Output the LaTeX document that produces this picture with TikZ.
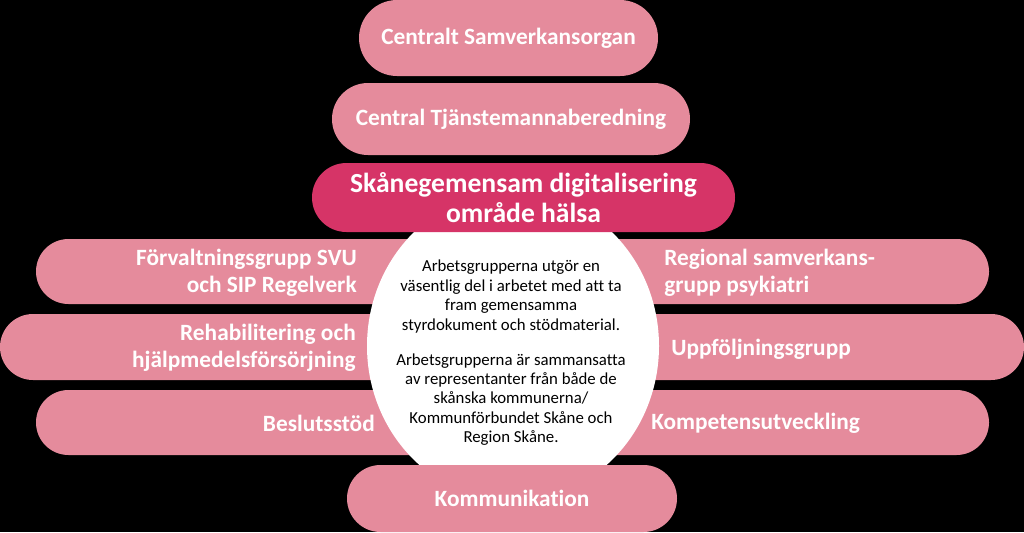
\documentclass[tikz,border=0pt]{standalone}
\usepackage{fontspec}
\setmainfont{Carlito}[Ligatures=NoCommon]
\usetikzlibrary{shapes.misc,shapes.geometric}
\definecolor{rosa}{RGB}{229,139,156}
\definecolor{cerise}{RGB}{214,52,103}
\newcommand{\pillfont}{\fontsize{17.5}{20}\selectfont\bfseries}
\newcommand{\infofont}{\fontsize{12.6}{14.6}\selectfont}

\begin{document}
\begin{tikzpicture}[x=0.75pt,y=-0.75pt]
\tikzstyle{pill}=[rounded rectangle, fill=rosa, inner sep=0pt, minimum height=0.75*65pt]
\tikzstyle{lbl}=[text=white, font=\pillfont, inner sep=0pt]
\fill[black] (0,0) rectangle (1024,532);
\useasboundingbox (0,0) rectangle (1024,532);

% working groups, left and right half of each row
\node[pill, minimum width=0.75*524pt] (rowA) at (298,271.5) {};
\node[pill, minimum width=0.75*525pt] (rowAr) at (726.5,271.5) {};
\node[pill, minimum width=0.75*560pt, minimum height=0.75*66pt] (rowB) at (280,347) {};
\node[pill, minimum width=0.75*560pt, minimum height=0.75*66pt] (rowBr) at (744,347) {};
\node[pill, minimum width=0.75*524pt] (rowC) at (298,422.5) {};
\node[pill, minimum width=0.75*525pt] (rowCr) at (726.5,422.5) {};

\node[lbl, anchor=east, align=right] (svu) at (357,272.5) {Förvaltningsgrupp SVU\\och SIP Regelverk};
\node[lbl, anchor=east, align=right] (rehab) at (356,347.5) {Rehabilitering och\\hjälpmedelsförsörjning};
\node[lbl, anchor=east] (beslut) at (375,423) {Beslutsstöd};
\node[lbl, anchor=west, align=left] (psyk) at (664,272.5) {Regional samverkans-\\grupp psykiatri};
\node[lbl, anchor=west] (uppf) at (671,349) {Uppföljningsgrupp};
\node[lbl, anchor=west] (komp) at (651,423) {Kompetensutveckling};

% white circle with the description
\node[ellipse, fill=white, minimum width=0.75*292pt, minimum height=0.75*310pt, inner sep=0pt] (blob) at (513,346) {};
\node[font=\infofont, align=center, inner sep=0pt] (info) at (511,353) {Arbetsgrupperna utgör en\\väsentlig del i arbetet med att ta\\fram gemensamma\\styrdokument och stödmaterial.\\[11.5pt]Arbetsgrupperna är sammansatta\\av representanter från både de\\skånska kommunerna/\\Kommunförbundet Skåne och\\Region Skåne.};

% steering levels on top
\node[pill, minimum width=0.75*299pt, minimum height=0.75*76pt] (sam) at (508.5,38) {};
\node[lbl] (samT) at (sam.center) {Centralt Samverkansorgan};
\node[pill, minimum width=0.75*358pt, minimum height=0.75*72pt] (tjm) at (511,119) {};
\node[lbl] (tjmT) at (tjm.center) {Central Tjänstemannaberedning};
\node[pill, fill=cerise, minimum width=0.75*423pt, minimum height=0.75*69pt] (digi) at (523.5,197.5) {};
\node[lbl, align=center, font=\fontsize{20.7}{22}\selectfont\bfseries] (digiT) at (digi.center) {Skånegemensam digitalisering\\område hälsa};

% bottom
\node[pill, minimum width=0.75*330pt, minimum height=0.75*67pt] (komm) at (512,498.5) {};
\node[lbl] (kommT) at (komm.center) {Kommunikation};
\end{tikzpicture}
\end{document}
